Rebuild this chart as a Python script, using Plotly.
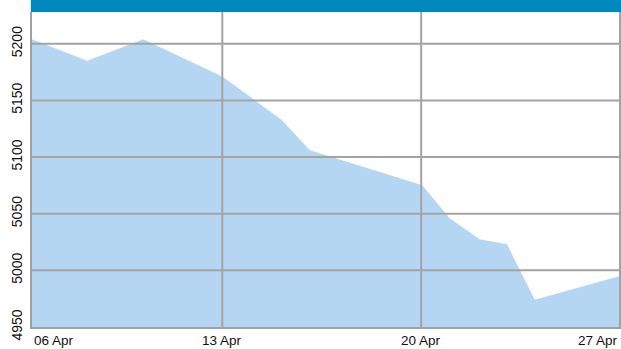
import plotly.graph_objects as go

# Index level over the period (vertices of the daily series)
dates = [
    "2020-04-06 07:12", "2020-04-08 05:50", "2020-04-10 05:10", "2020-04-13 00:00",
    "2020-04-15 02:00", "2020-04-16 02:00", "2020-04-20 01:00", "2020-04-21 00:00",
    "2020-04-22 01:30", "2020-04-23 00:30", "2020-04-24 00:00", "2020-04-27 00:00",
]
values = [5204, 5185, 5204, 5171, 5133, 5106, 5075, 5046, 5027.5, 5023, 4974, 4995]

y_ticks = [4950, 5000, 5050, 5100, 5150, 5200]
y_grid = [5000, 5050, 5100, 5150, 5200]
x_grid = ["2020-04-13", "2020-04-20", "2020-04-27"]
x_label_pos = ["2020-04-06 07:12", "2020-04-13", "2020-04-20", "2020-04-27"]
x_labels = ["06 Apr", "13 Apr", "20 Apr", "27 Apr"]
x_anchor = ["left", "center", "center", "right"]

x_range = ["2020-04-06 07:12", "2020-04-27 00:50"]
y_range = [4950, 5228]

FILL = "#b4d6f3"
GRID = "#a3a3a3"
BAND = "#0088bf"
FONT = "Liberation Sans, Arial, sans-serif"

fig = go.Figure(
    go.Scatter(
        x=dates, y=values, mode="lines",
        line=dict(width=0, color=FILL),
        fill="tozeroy", fillcolor=FILL,
        hoverinfo="skip",
    )
)

shapes = []
for v in y_grid:
    shapes.append(dict(type="line", xref="paper", yref="y", x0=0, x1=1, y0=v, y1=v,
                       line=dict(color=GRID, width=2), layer="above"))
for d in x_grid:
    shapes.append(dict(type="line", xref="x", yref="paper", x0=d, x1=d, y0=0, y1=1,
                       line=dict(color=GRID, width=2), layer="above"))
# header band across the top
shapes.append(dict(type="rect", xref="paper", yref="paper", x0=-0.002, x1=1, y0=1, y1=1.06,
                   fillcolor=BAND, line=dict(width=0), layer="above"))

annotations = []
for pos, txt, anc in zip(x_label_pos, x_labels, x_anchor):
    annotations.append(dict(x=pos, y=0, xref="x", yref="paper", text=txt,
                            showarrow=False, xanchor=anc, yanchor="top", yshift=-4,
                            font=dict(family=FONT, size=13.5, color="#111111")))

fig.update_layout(
    width=621, height=349,
    margin=dict(l=32, r=0, t=12, b=22),
    paper_bgcolor="white", plot_bgcolor="white",
    showlegend=False,
    shapes=shapes, annotations=annotations,
    xaxis=dict(range=x_range, showgrid=False, showticklabels=False, ticks="",
               showline=True, linecolor="#a0a0a0", linewidth=2, zeroline=False,
               fixedrange=True),
    yaxis=dict(range=y_range, tickvals=y_ticks, showgrid=False, ticks="",
               tickangle=-90, tickfont=dict(family=FONT, size=14, color="#111111"),
               showline=True, linecolor="#a0a0a0", linewidth=2, zeroline=False,
               ticklabelstandoff=2, fixedrange=True),
)

fig.write_html("out.html", config={"displayModeBar": False})
